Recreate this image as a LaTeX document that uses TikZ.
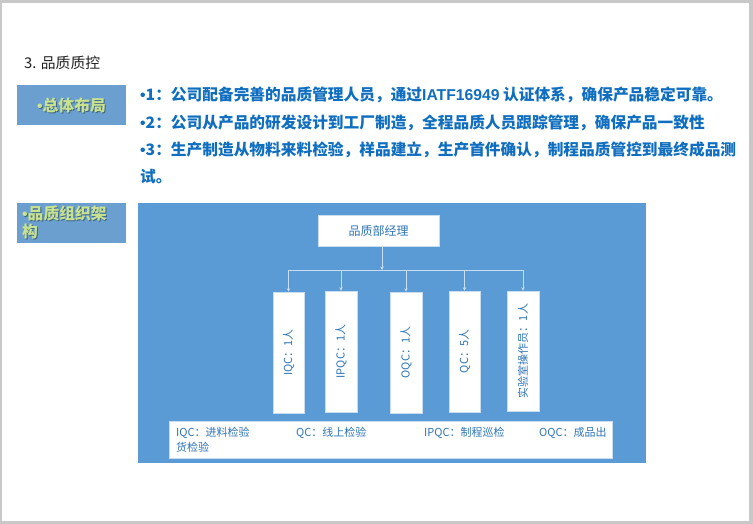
\documentclass[tikz,border=0pt]{standalone}
\usepackage{fontspec}
\setmainfont{Noto Sans CJK SC}
\newfontfamily\latinsans{Liberation Sans}
\newcommand{\bul}{{\latinsans •}}
\usetikzlibrary{arrows.meta}
\definecolor{framegray}{HTML}{C8C8C8}
\definecolor{titlegray}{HTML}{222222}
\definecolor{lblbox}{HTML}{6A9FCF}
\definecolor{lbltxt}{HTML}{C9E28F}
\definecolor{lblshadow}{HTML}{3E6688}
\definecolor{bodyblue}{HTML}{0F6EBF}
\definecolor{panelblue}{HTML}{5B9BD5}
\definecolor{chartblue}{HTML}{2E75B6}
\definecolor{connc}{HTML}{C9DDF1}
\tikzset{
  bodyline/.style={anchor=west, inner sep=0pt, text=bodyblue, font=\fontsize{15.7}{15.7}\selectfont\bfseries},
  lbl/.style={inner sep=0pt, text=lbltxt, font=\fontsize{15.8}{15.8}\selectfont\bfseries},
  lblsh/.style={inner sep=0pt, text=lblshadow, font=\fontsize{15.8}{15.8}\selectfont\bfseries},
  whitebox/.style={fill=white, draw=connc, line width=0.6pt, inner sep=0pt},
  vtext/.style={rotate=90, text=chartblue, font=\fontsize{11}{11}\selectfont},
  legtext/.style={anchor=west, inner sep=0pt, text=chartblue, font=\fontsize{11}{11}\selectfont},
  conn/.style={draw=connc, line width=0.8pt},
  arr/.style={conn, -{Stealth[length=3.5pt,width=3.5pt]}}
}
\begin{document}
\begin{tikzpicture}[x=1pt,y=-1pt]
\fill[framegray] (0,0) rectangle (753,524);
\fill[white] (2,3) rectangle (749,521);
\useasboundingbox (0,0) rectangle (753,524);

% title
\node[anchor=west, inner sep=0pt, text=titlegray, font=\fontsize{14.8}{14.8}\selectfont] (title) at (24,62.5) {3. 品质质控};

% label box 1
\fill[lblbox] (17,85) rectangle (126,125);
\node[lblsh] (l1s) at (72.5,106) {\bul 总体布局};
\node[lbl] (l1) at (71.5,105) {\bul 总体布局};

% bullet lines
\node[bodyline] (b1) at (140,95) {\bul 1：公司配备完善的品质管理人员，通过{\latinsans IATF16949} 认证体系，确保产品稳定可靠。};
\node[bodyline] (b2) at (140,122.5) {\bul 2：公司从产品的研发设计到工厂制造，全程品质人员跟踪管理，确保产品一致性};
\node[bodyline] (b3) at (140,149.5) {\bul 3：生产制造从物料来料检验，样品建立，生产首件确认，制程品质管控到最终成品测};
\node[bodyline] (b4) at (140,176.5) {试。};

% label box 2
\fill[lblbox] (17,203) rectangle (126,243);
\node[lblsh, anchor=west] (l2s) at (23,214) {\bul 品质组织架};
\node[lbl, anchor=west] (l2) at (22,213) {\bul 品质组织架};
\node[lblsh, anchor=west] (l3s) at (23,233) {构};
\node[lbl, anchor=west] (l3) at (22,232) {构};

% panel
\fill[panelblue] (138,203) rectangle (646,463);

% manager
\node[whitebox, minimum width=121pt, minimum height=31pt, text=chartblue, font=\fontsize{12}{12}\selectfont] (mgr) at (378.5,231) {品质部经理};

% boxes
\node[whitebox, minimum width=31pt, minimum height=121pt] (iqc) at (288.5,352.5) {};
\node[whitebox, minimum width=32pt, minimum height=121pt] (ipqc) at (341,351.5) {};
\node[whitebox, minimum width=32pt, minimum height=121pt] (oqc) at (406,352.5) {};
\node[whitebox, minimum width=31pt, minimum height=121pt] (qc) at (464.5,351.5) {};
\node[whitebox, minimum width=32pt, minimum height=120pt] (lab) at (523,351) {};
\node[vtext] (tiqc) at (iqc) {IQC：1人};
\node[vtext] (tipqc) at (ipqc) {IPQC：1人};
\node[vtext] (toqc) at (oqc) {OQC：1人};
\node[vtext] (tqc) at (qc) {QC：5人};
\node[vtext] (tlab) at (lab) {实验室操作员：1人};

% connectors
\coordinate (j) at (382,270);
\coordinate (hl) at (288.5,270);
\coordinate (hr) at (523,270);
\draw[arr] (mgr.south -| j) -- (j);
\draw[conn] (hl) -- (hr);
\foreach \b in {iqc,ipqc,oqc,qc,lab}{
  \draw[arr] (\b.north |- j) -- (\b.north);
}

% legend
\node[whitebox, minimum width=443pt, minimum height=37pt] (leg) at (390.5,439.5) {};
\node[legtext] (lg1) at (176,433) {IQC：进料检验};
\node[legtext] (lg2) at (296,433) {QC：线上检验};
\node[legtext] (lg3) at (424,433) {IPQC：制程巡检};
\node[legtext] (lg4) at (539,433) {OQC：成品出};
\node[legtext] (lg5) at (176,447) {货检验};
\end{tikzpicture}
\end{document}
